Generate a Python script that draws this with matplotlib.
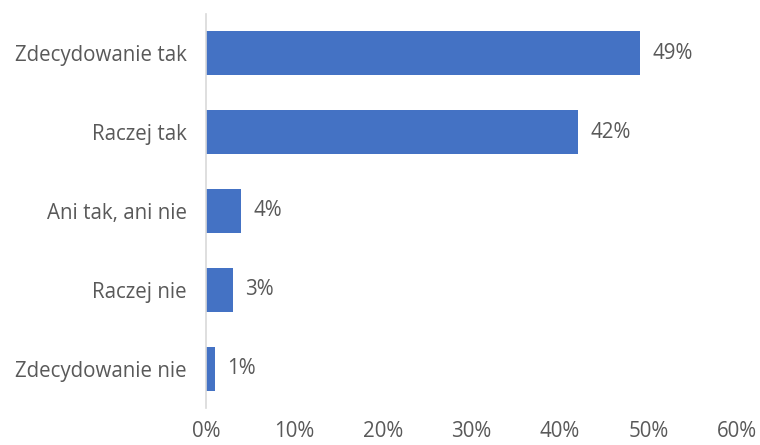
import matplotlib
matplotlib.use("Agg")
import matplotlib.pyplot as plt
from matplotlib.ticker import PercentFormatter

# answers, top to bottom
categories = ["Zdecydowanie tak", "Raczej tak", "Ani tak, ani nie", "Raczej nie", "Zdecydowanie nie"]
values = [49, 42, 4, 3, 1]
xticks = [0, 10, 20, 30, 40, 50, 60]

plt.rcParams['font.family'] = ['Open Sans', 'DejaVu Sans']
txt = '#595959'
fs = 14.8

fig = plt.figure(figsize=(7.6, 4.45), dpi=100)
ax = fig.add_axes([0.271, 0.083, 0.699, 0.886])

bars = ax.barh(categories, values, height=0.56, color='#4472C4')
for b, v in zip(bars, values):
    ax.text(b.get_width() + 1.4, b.get_y() + b.get_height() / 2, f"{v}%",
            va='center', ha='left', fontsize=fs, color=txt)

ax.set_ylim(4.5, -0.5)
ax.set_xlim(0, 60)
ax.set_xticks(xticks)
ax.xaxis.set_major_formatter(PercentFormatter(decimals=0))

for s in ['top', 'right', 'bottom']:
    ax.spines[s].set_visible(False)
ax.spines['left'].set_color('#d9d9d9')
ax.spines['left'].set_linewidth(1.2)
ax.tick_params(axis='both', length=0, colors=txt, labelsize=fs)
ax.tick_params(axis='y', pad=14)
ax.tick_params(axis='x', pad=9)

fig.savefig("out.png", dpi=100)
